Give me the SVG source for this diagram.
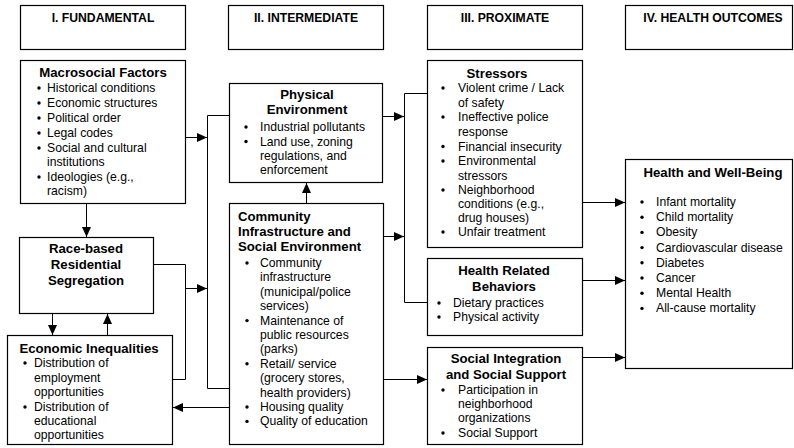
<svg xmlns="http://www.w3.org/2000/svg" width="794" height="448" viewBox="0 0 794 448">
<style>
  .box { fill: #fff; stroke: #000; stroke-width: 1.2; }
  .hd { font-family: "Liberation Sans", Arial, sans-serif; font-size: 12.2px; font-weight: bold; text-anchor: middle; fill: #000; }
  .tt { font-family: "Liberation Sans", Arial, sans-serif; font-size: 13.2px; font-weight: bold; fill: #000; }
  .c { text-anchor: middle; }
  .it { font-family: "Liberation Sans", Arial, sans-serif; font-size: 12.2px; fill: #000; }
  .bl { fill: #000; }
  .ln { fill: none; stroke: #000; stroke-width: 1; }
  .ar { fill: none; stroke: #000; stroke-width: 1; marker-end: url(#ah); }
</style>
<defs>
  <marker id="ah" markerUnits="userSpaceOnUse" markerWidth="10" markerHeight="9" refX="10" refY="4.5" orient="auto">
    <path d="M0,0 L10,4.5 L0,9 Z" fill="#000"/>
  </marker>
</defs>
<rect width="794" height="448" fill="#fff"/>

<g id="header1"><rect class="box" x="20.5" y="5.5" width="165" height="44"/><text class="hd" x="103" y="21.5">I. FUNDAMENTAL</text></g>
<g id="header2"><rect class="box" x="228.5" y="5.5" width="155" height="44"/><text class="hd" x="306" y="21.5">II. INTERMEDIATE</text></g>
<g id="header3"><rect class="box" x="427.5" y="5.5" width="155" height="44"/><text class="hd" x="505" y="21.5">III. PROXIMATE</text></g>
<g id="header4"><rect class="box" x="625.5" y="5.5" width="167" height="44"/><text class="hd" x="713" y="21.5">IV. HEALTH OUTCOMES</text></g>

<g id="macrosocial">
  <rect class="box" x="20.5" y="60.5" width="165" height="143"/>
  <text class="tt c" x="103" y="77">Macrosocial Factors</text>
  <g class="bl"><circle cx="39" cy="88" r="1.7"/><circle cx="39" cy="103" r="1.7"/><circle cx="39" cy="118" r="1.7"/><circle cx="39" cy="133" r="1.7"/><circle cx="39" cy="148" r="1.7"/><circle cx="39" cy="177" r="1.7"/></g>
  <text class="it" x="47" y="92">Historical conditions</text>
  <text class="it" x="47" y="107">Economic structures</text>
  <text class="it" x="47" y="122">Political order</text>
  <text class="it" x="47" y="137">Legal codes</text>
  <text class="it" x="47" y="152">Social and cultural</text>
  <text class="it" x="47" y="166">institutions</text>
  <text class="it" x="47" y="181">Ideologies (e.g.,</text>
  <text class="it" x="47" y="195">racism)</text>
</g>

<g id="race">
  <rect class="box" x="19.5" y="237.5" width="134" height="76"/>
  <text class="tt c" x="86" y="253">Race-based</text>
  <text class="tt c" x="86" y="269">Residential</text>
  <text class="tt c" x="86" y="285">Segregation</text>
</g>

<g id="economic">
  <rect class="box" x="7.5" y="335.5" width="165" height="109"/>
  <text class="tt c" x="89" y="353">Economic Inequalities</text>
  <g class="bl"><circle cx="25" cy="363" r="1.7"/><circle cx="25" cy="407" r="1.7"/></g>
  <text class="it" x="34" y="367">Distribution of</text>
  <text class="it" x="34" y="382">employment</text>
  <text class="it" x="34" y="396">opportunities</text>
  <text class="it" x="34" y="411">Distribution of</text>
  <text class="it" x="34" y="425">educational</text>
  <text class="it" x="34" y="439">opportunities</text>
</g>

<g id="physical">
  <rect class="box" x="229.5" y="83.5" width="153" height="99"/>
  <text class="tt c" x="307" y="99">Physical</text>
  <text class="tt c" x="307" y="114">Environment</text>
  <g class="bl"><circle cx="246" cy="127" r="1.7"/><circle cx="246" cy="141.5" r="1.7"/></g>
  <text class="it" x="260" y="131">Industrial pollutants</text>
  <text class="it" x="260" y="145.5">Land use, zoning</text>
  <text class="it" x="260" y="159.5">regulations, and</text>
  <text class="it" x="260" y="173.5">enforcement</text>
</g>

<g id="community">
  <rect class="box" x="229.5" y="203.5" width="154" height="241"/>
  <text class="tt" x="238" y="221">Community</text>
  <text class="tt" x="238" y="236">Infrastructure and</text>
  <text class="tt" x="238" y="251">Social Environment</text>
  <g class="bl"><circle cx="247" cy="263" r="1.7"/><circle cx="247" cy="320.6" r="1.7"/><circle cx="247" cy="363.8" r="1.7"/><circle cx="247" cy="407" r="1.7"/><circle cx="247" cy="421.4" r="1.7"/></g>
  <text class="it" x="260" y="267">Community</text>
  <text class="it" x="260" y="281.4">infrastructure</text>
  <text class="it" x="260" y="295.8">(municipal/police</text>
  <text class="it" x="260" y="310.2">services)</text>
  <text class="it" x="260" y="324.6">Maintenance of</text>
  <text class="it" x="260" y="339">public resources</text>
  <text class="it" x="260" y="353.4">(parks)</text>
  <text class="it" x="260" y="367.8">Retail/ service</text>
  <text class="it" x="260" y="382.2">(grocery stores,</text>
  <text class="it" x="260" y="396.6">health providers)</text>
  <text class="it" x="260" y="411">Housing quality</text>
  <text class="it" x="260" y="425.4">Quality of education</text>
</g>

<g id="stressors">
  <rect class="box" x="427.5" y="60.5" width="155" height="187"/>
  <text class="tt c" x="497" y="78">Stressors</text>
  <g class="bl"><circle cx="443" cy="88" r="1.7"/><circle cx="443" cy="117" r="1.7"/><circle cx="443" cy="146.5" r="1.7"/><circle cx="443" cy="161" r="1.7"/><circle cx="443" cy="190" r="1.7"/><circle cx="443" cy="232" r="1.7"/></g>
  <text class="it" x="458" y="92">Violent crime / Lack</text>
  <text class="it" x="458" y="106.5">of safety</text>
  <text class="it" x="458" y="121">Ineffective police</text>
  <text class="it" x="458" y="136">response</text>
  <text class="it" x="458" y="150.5">Financial insecurity</text>
  <text class="it" x="458" y="165">Environmental</text>
  <text class="it" x="458" y="179.5">stressors</text>
  <text class="it" x="458" y="194">Neighborhood</text>
  <text class="it" x="458" y="208">conditions (e.g.,</text>
  <text class="it" x="458" y="222">drug houses)</text>
  <text class="it" x="458" y="236">Unfair treatment</text>
</g>

<g id="behaviors">
  <rect class="box" x="427.5" y="258.5" width="155" height="77"/>
  <text class="tt c" x="504" y="275">Health Related</text>
  <text class="tt c" x="504" y="291">Behaviors</text>
  <g class="bl"><circle cx="439" cy="303" r="1.7"/><circle cx="439" cy="317" r="1.7"/></g>
  <text class="it" x="453" y="307">Dietary practices</text>
  <text class="it" x="453" y="321">Physical activity</text>
</g>

<g id="social">
  <rect class="box" x="427.5" y="347.5" width="155" height="97"/>
  <text class="tt c" x="506" y="363">Social Integration</text>
  <text class="tt c" x="506" y="379">and Social Support</text>
  <g class="bl"><circle cx="443" cy="390" r="1.7"/><circle cx="443" cy="433" r="1.7"/></g>
  <text class="it" x="458" y="394">Participation in</text>
  <text class="it" x="458" y="408">neighborhood</text>
  <text class="it" x="458" y="422">organizations</text>
  <text class="it" x="458" y="437">Social Support</text>
</g>

<g id="health">
  <rect class="box" x="625.5" y="159.5" width="167" height="209"/>
  <text class="tt c" x="713" y="177">Health and Well-Being</text>
  <g class="bl"><circle cx="642" cy="202" r="1.7"/><circle cx="642" cy="217.2" r="1.7"/><circle cx="642" cy="232.4" r="1.7"/><circle cx="642" cy="247.6" r="1.7"/><circle cx="642" cy="262.8" r="1.7"/><circle cx="642" cy="278" r="1.7"/><circle cx="642" cy="293.2" r="1.7"/><circle cx="642" cy="308.4" r="1.7"/></g>
  <text class="it" x="656" y="206">Infant mortality</text>
  <text class="it" x="656" y="221.2">Child mortality</text>
  <text class="it" x="656" y="236.4">Obesity</text>
  <text class="it" x="656" y="251.6">Cardiovascular disease</text>
  <text class="it" x="656" y="266.8">Diabetes</text>
  <text class="it" x="656" y="282">Cancer</text>
  <text class="it" x="656" y="297.2">Mental Health</text>
  <text class="it" x="656" y="312.4">All-cause mortality</text>
</g>

<g id="connectors">
  <path class="ar" d="M186,137.5 H207"/>
  <path class="ln" d="M154,264.5 H185.5 V379.5 H173"/>
  <path class="ar" d="M185.5,288.5 H207"/>
  <path class="ln" d="M229,115.5 H207.5 V388.5 H229"/>
  <path class="ar" d="M86.5,204 V237"/>
  <path class="ar" d="M52.5,314 V335"/>
  <path class="ar" d="M107.5,335 V314"/>
  <path class="ar" d="M306.5,203 V183"/>
  <path class="ar" d="M229,407.5 H173"/>
  <path class="ar" d="M383,116.5 H404"/>
  <path class="ar" d="M384,236.5 H404"/>
  <path class="ln" d="M427,93.5 H404.5 V302.5 H427"/>
  <path class="ar" d="M384,379.5 H427"/>
  <path class="ar" d="M583,202.5 H625"/>
  <path class="ar" d="M583,280.5 H625"/>
  <path class="ar" d="M583,357.5 H625"/>
</g>
</svg>
